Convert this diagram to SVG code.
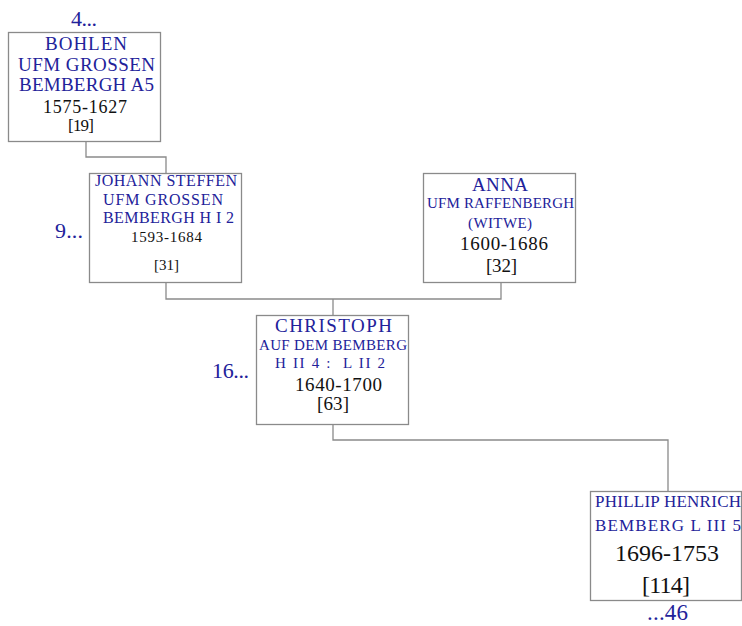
<svg xmlns="http://www.w3.org/2000/svg" width="742" height="626" viewBox="0 0 742 626">
<style>
.box{fill:#fff;stroke:#8a8a8a;stroke-width:1.3}
.con{fill:none;stroke:#8a8a8a;stroke-width:1.3}
text{font-family:'Liberation Serif','Times New Roman',serif;lengthAdjust:spacing}
.n{fill:#22229a}
.d{fill:#111}
.r{fill:#22229a}
</style>
<rect width="742" height="626" fill="#fff"/>
<g id="connectors">
<path class="con" d="M86,141 V157 H166 V173"/>
<path class="con" d="M166,283 V299 H501 V283"/>
<path class="con" d="M333,299 V315"/>
<path class="con" d="M333,424 V440 H668 V491"/>
</g>
<g id="n19">
<rect class="box" x="8.5" y="32.5" width="152" height="109"/>
<text class="r" x="71" y="26" font-size="22" textLength="26">4...</text>
<text class="n" x="45" y="50" font-size="19" textLength="82">BOHLEN</text>
<text class="n" x="18" y="71" font-size="19" textLength="137">UFM GROSSEN</text>
<text class="n" x="19" y="91" font-size="19" textLength="135">BEMBERGH A5</text>
<text class="d" x="43" y="113" font-size="18" textLength="84">1575-1627</text>
<text class="d" x="68" y="131" font-size="17" textLength="26">[19]</text>
</g>
<g id="n31">
<rect class="box" x="89.5" y="173.5" width="152" height="109"/>
<text class="r" x="55" y="238" font-size="22" textLength="28">9...</text>
<text class="n" x="95" y="186" font-size="16" textLength="142">JOHANN STEFFEN</text>
<text class="n" x="103" y="205" font-size="16" textLength="120">UFM GROSSEN</text>
<text class="n" x="103" y="223" font-size="16" textLength="131">BEMBERGH H I 2</text>
<text class="d" x="131" y="242" font-size="15" textLength="71">1593-1684</text>
<text class="d" x="154" y="270" font-size="15" textLength="25">[31]</text>
</g>
<g id="n32">
<rect class="box" x="423.5" y="173.5" width="152" height="109"/>
<text class="n" x="472" y="191" font-size="19" textLength="56">ANNA</text>
<text class="n" x="427" y="208" font-size="15" textLength="147">UFM RAFFENBERGH</text>
<text class="n" x="468" y="228" font-size="15" textLength="64">(WITWE)</text>
<text class="d" x="460" y="250" font-size="19" textLength="88">1600-1686</text>
<text class="d" x="486" y="272" font-size="19" textLength="31">[32]</text>
</g>
<g id="n63">
<rect class="box" x="256.5" y="315.5" width="152" height="109"/>
<text class="r" x="212" y="378" font-size="22" textLength="37">16...</text>
<text class="n" x="275" y="332" font-size="19" textLength="117">CHRISTOPH</text>
<text class="n" x="259" y="350" font-size="15" textLength="148">AUF DEM BEMBERG</text>
<text class="n" x="275" y="368" font-size="15" textLength="110" xml:space="preserve">H II 4 :  L II 2</text>
<text class="d" x="295" y="391" font-size="19" textLength="87">1640-1700</text>
<text class="d" x="317" y="410" font-size="19" textLength="32">[63]</text>
</g>
<g id="n114">
<rect class="box" x="590.5" y="491.5" width="151" height="109"/>
<text class="n" x="595" y="507" font-size="17" textLength="146">PHILLIP HENRICH</text>
<text class="n" x="595" y="531" font-size="17" textLength="146">BEMBERG L III 5</text>
<text class="d" x="615" y="561" font-size="24" textLength="104">1696-1753</text>
<text class="d" x="642" y="593" font-size="24" textLength="48">[114]</text>
<text class="r" x="647" y="620" font-size="23" textLength="41">...46</text>
</g>
</svg>
